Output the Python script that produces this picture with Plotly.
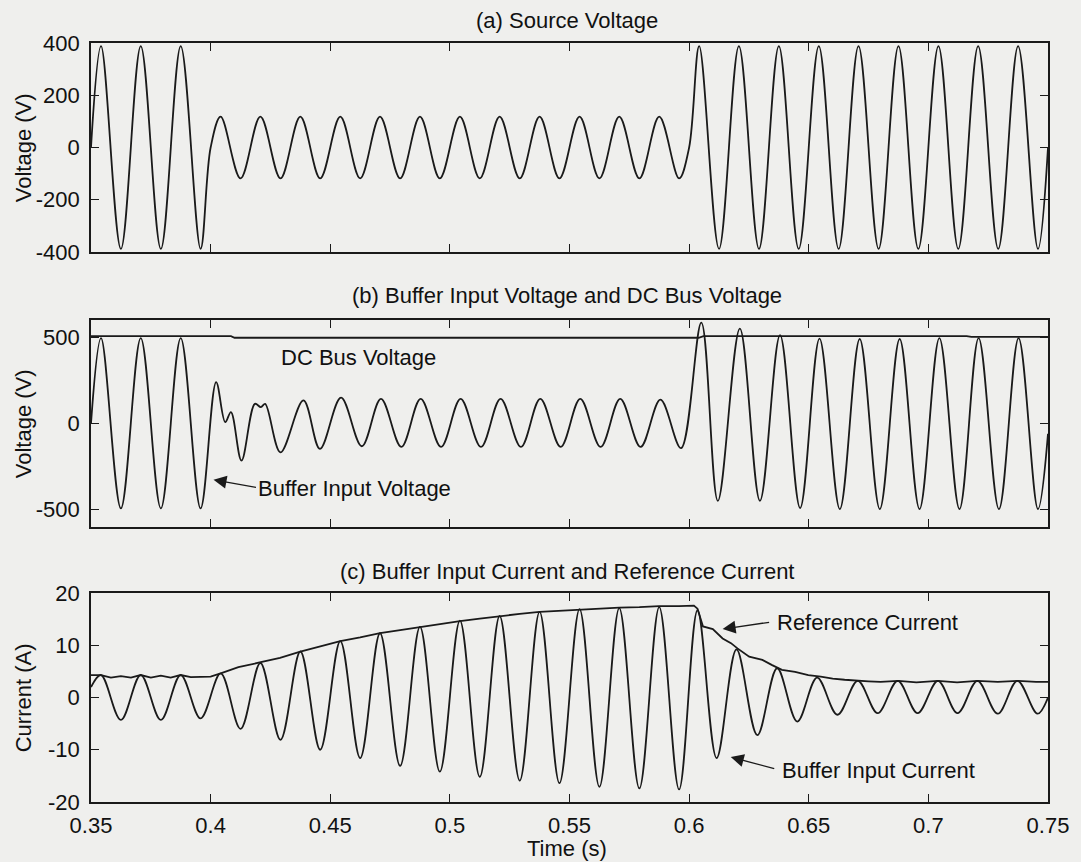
import plotly.graph_objects as go
from plotly.subplots import make_subplots

# ---------------- data ----------------
# (a) Source voltage: extremes / zero points
t_src = [0.3500, 0.3542, 0.3625, 0.3708, 0.3792, 0.3875, 0.3958, 0.4000,
         0.4042, 0.4125, 0.4208, 0.4292, 0.4375, 0.4458, 0.4542, 0.4625,
         0.4708, 0.4792, 0.4875, 0.4958, 0.5042, 0.5125, 0.5208, 0.5292,
         0.5375, 0.5458, 0.5542, 0.5625, 0.5708, 0.5792, 0.5875, 0.5958,
         0.6000, 0.6042, 0.6125, 0.6208, 0.6292, 0.6375, 0.6458, 0.6542,
         0.6625, 0.6708, 0.6792, 0.6875, 0.6958, 0.7042, 0.7125, 0.7208,
         0.7292, 0.7375, 0.7458, 0.7500]
v_src = [0, 388, -388, 388, -388, 388, -388, 0,
         118, -118, 118, -118, 118, -118, 118, -118,
         118, -118, 118, -118, 118, -118, 118, -118,
         118, -118, 118, -118, 118, -118, 118, -118,
         0, 388, -388, 388, -388, 388, -388, 388,
         -388, 388, -388, 388, -388, 388, -388, 388,
         -388, 388, -388, 0]

# (b) Buffer input voltage
t_buf = [0.3500, 0.3542, 0.3625, 0.3708, 0.3792, 0.3875, 0.3958, 0.4023,
         0.4061, 0.4085, 0.4129, 0.4185, 0.4210, 0.4228, 0.4292, 0.4388,
         0.4457, 0.4545, 0.4632, 0.4712, 0.4797, 0.4878, 0.4963, 0.5045,
         0.5130, 0.5212, 0.5297, 0.5378, 0.5463, 0.5545, 0.5630, 0.5712,
         0.5797, 0.5880, 0.5966, 0.6051, 0.6120, 0.6212, 0.6296, 0.6380,
         0.6464, 0.6545, 0.6630, 0.6713, 0.6797, 0.6880, 0.6963, 0.7046,
         0.7130, 0.7210, 0.7295, 0.7377, 0.7458, 0.7500]
v_buf = [0, 495, -492, 495, -492, 495, -492, 240,
         8, 66, -215, 114, 95, 114, -167, 134,
         -147, 150, -132, 143, -136, 143, -136, 143,
         -136, 143, -136, 143, -136, 143, -136, 143,
         -136, 138, -143, 585, -448, 550, -448, 512,
         -490, 492, -496, 490, -496, 490, -496, 495,
         -496, 495, -496, 495, -496, -60]

# (b) DC bus voltage
t_dc = [0.3500, 0.4085, 0.4100, 0.6040, 0.6060, 0.7160, 0.7180, 0.7500]
v_dc = [506, 506, 497, 497, 507, 507, 502, 502]

# (c) Buffer input current
t_cur = [0.3500, 0.3542, 0.3625, 0.3708, 0.3792, 0.3875, 0.3958, 0.4042,
         0.4125, 0.4208, 0.4292, 0.4375, 0.4458, 0.4542, 0.4625, 0.4708,
         0.4792, 0.4875, 0.4958, 0.5042, 0.5125, 0.5208, 0.5292, 0.5375,
         0.5458, 0.5542, 0.5625, 0.5708, 0.5792, 0.5875, 0.5958, 0.6035,
         0.6115, 0.6198, 0.6285, 0.6368, 0.6452, 0.6535, 0.6620, 0.6705,
         0.6788, 0.6872, 0.6955, 0.7040, 0.7122, 0.7205, 0.7290, 0.7372,
         0.7456, 0.7500]
v_cur = [2.0, 4.3, -4.3, 4.3, -4.3, 4.3, -4.0, 4.6,
         -6.0, 6.6, -8.1, 8.8, -10.0, 10.8, -11.6, 12.3,
         -13.1, 13.5, -14.2, 14.7, -15.2, 15.6, -15.9, 16.4,
         -16.4, 16.9, -17.1, 17.1, -17.4, 17.3, -17.6, 16.7,
         -11.6, 9.2, -7.2, 5.6, -4.6, 3.8, -3.3, 3.2,
         -3.0, 3.2, -3.0, 3.2, -3.0, 3.2, -3.1, 3.2,
         -3.1, 0.0]

# (c) Reference current
t_ref = [0.3500, 0.3542, 0.3583, 0.3625, 0.3667, 0.3708, 0.3750, 0.3792,
         0.3833, 0.3875, 0.3917, 0.3958, 0.4000, 0.4042, 0.4116, 0.4205,
         0.4290, 0.4375, 0.4458, 0.4542, 0.4625, 0.4708, 0.4792, 0.4875,
         0.4958, 0.5042, 0.5125, 0.5208, 0.5292, 0.5375, 0.5458, 0.5542,
         0.5625, 0.5708, 0.5792, 0.5875, 0.5958, 0.6020, 0.6035, 0.6058,
         0.6099, 0.6140, 0.6175, 0.6202, 0.6251, 0.6306, 0.6347, 0.6388,
         0.6443, 0.6498, 0.6550, 0.6600, 0.6650, 0.6700, 0.6750, 0.6800,
         0.6875, 0.6950, 0.7040, 0.7120, 0.7205, 0.7290, 0.7375, 0.7450,
         0.7500]
v_ref = [4.3, 4.3, 3.8, 4.1, 3.8, 4.3, 3.8, 4.2,
         3.8, 4.3, 3.9, 3.9, 4.0, 4.6, 5.8, 6.7,
         7.6, 8.8, 9.8, 10.8, 11.5, 12.3, 12.9, 13.5,
         14.1, 14.6, 15.1, 15.6, 16.0, 16.4, 16.6, 16.9,
         17.0, 17.2, 17.3, 17.5, 17.5, 17.6, 17.0, 13.6,
         13.1, 11.3, 10.4, 9.4, 7.8, 7.2, 6.2, 5.3,
         4.9, 4.3, 4.0, 3.6, 3.4, 3.2, 3.1, 3.0,
         3.2, 2.9, 3.2, 2.9, 3.2, 3.0, 3.2, 3.0,
         3.0]

x_ticks = [0.35, 0.4, 0.45, 0.5, 0.55, 0.6, 0.65, 0.7, 0.75]
x_tick_labels = ["0.35", "0.4", "0.45", "0.5", "0.55", "0.6", "0.65", "0.7", "0.75"]
ya_ticks = [-400, -200, 0, 200, 400]
ya_labels = ["-400", "-200", "0", "200", "400"]
yb_ticks = [-500, 0, 500]
yb_labels = ["-500", "0", "500"]
yc_ticks = [-20, -10, 0, 10, 20]
yc_labels = ["-20", "-10", "0", "10", "20"]

titles = ["(a) Source Voltage",
          "(b) Buffer Input Voltage and DC Bus Voltage",
          "(c) Buffer Input Current and Reference Current"]

# ---------------- figure ----------------
W, H = 1081, 862
ML, MR, MT, MB = 91, 22, 43, 60
PH = H - MT - MB
PW = W - ML - MR

def dom(top_px, bot_px):
    return [(H - MB - bot_px) / PH, (H - MB - top_px) / PH]

BG = "#efefed"
INK = "#1a1a1a"
TXT = "#111111"
FONT = "Liberation Sans, Arial, sans-serif"
FS = 22

fig = make_subplots(rows=3, cols=1)

lw = 1.8
fig.add_trace(go.Scatter(x=t_src, y=v_src, mode="lines", line=dict(color=INK, width=lw, shape="spline")), row=1, col=1)
fig.add_trace(go.Scatter(x=t_dc, y=v_dc, mode="lines", line=dict(color=INK, width=lw)), row=2, col=1)
fig.add_trace(go.Scatter(x=t_buf, y=v_buf, mode="lines", line=dict(color=INK, width=lw, shape="spline")), row=2, col=1)
fig.add_trace(go.Scatter(x=t_ref, y=v_ref, mode="lines", line=dict(color=INK, width=lw)), row=3, col=1)
fig.add_trace(go.Scatter(x=t_cur, y=v_cur, mode="lines", line=dict(color=INK, width=lw, shape="spline")), row=3, col=1)

axis_common = dict(showline=True, mirror="ticks", linecolor=INK, linewidth=1.6,
                   ticks="inside", ticklen=8, tickwidth=1.4, tickcolor=INK,
                   showgrid=False, zeroline=False,
                   tickfont=dict(family=FONT, size=FS, color=TXT))

doms = [dom(43, 252), dom(320, 527), dom(593, 802)]
yranges = [[-400, 400], [-600, 600], [-20, 20]]
yticks = [ya_ticks, yb_ticks, yc_ticks]
ylabs = [ya_labels, yb_labels, yc_labels]

for i in range(3):
    xa = "xaxis" if i == 0 else f"xaxis{i+1}"
    ya = "yaxis" if i == 0 else f"yaxis{i+1}"
    fig.update_layout(**{
        xa: dict(axis_common, range=[0.35, 0.75], tickvals=x_ticks,
                 ticktext=x_tick_labels, showticklabels=(i == 2),
                 ticklabelstandoff=3),
        ya: dict(axis_common, range=yranges[i], domain=doms[i],
                 tickvals=yticks[i], ticktext=ylabs[i], ticklabelstandoff=5),
    })

ann = []
# panel titles
for txt, ypx in zip(titles, [20, 295, 571]):
    ann.append(dict(text=txt, xref="paper", yref="paper", x=(572 - ML) / PW,
                    y=(H - MB - ypx) / PH, xanchor="center", yanchor="middle",
                    showarrow=False, font=dict(family=FONT, size=FS, color=TXT)))
# y-axis titles
ylabels = ["Voltage (V)", "Voltage (V)", "Current (A)"]
for i, lab in enumerate(ylabels):
    yref = "y domain" if i == 0 else f"y{i+1} domain"
    ann.append(dict(text=lab, xref="paper", yref=yref, x=(23 - ML) / PW,
                    y=0.5, textangle=-90, xanchor="center", yanchor="middle",
                    showarrow=False, font=dict(family=FONT, size=FS, color=TXT)))
# x-axis title
ann.append(dict(text="Time (s)", xref="paper", yref="paper", x=(572 - ML) / PW,
                y=(H - MB - 848) / PH, xanchor="center", yanchor="middle",
                showarrow=False, font=dict(family=FONT, size=FS, color=TXT)))

# in-plot labels
lab_font = dict(family=FONT, size=FS, color=TXT)
arrow = dict(showarrow=True, arrowhead=2, arrowsize=2.0, arrowwidth=1.3, arrowcolor=INK)
ann.append(dict(text="DC Bus Voltage", xref="x2", yref="y2", x=0.4285, y=384,
                xanchor="left", yanchor="middle", showarrow=False, font=lab_font))
ann.append(dict(text="Buffer Input Voltage", xref="x2", yref="y2", x=0.4190, y=-377,
                xanchor="left", yanchor="middle", showarrow=False, font=lab_font))
ann.append(dict(arrow, text="", xref="x2", yref="y2", x=0.4012, y=-326, ax=44, ay=8))
ann.append(dict(text="Reference Current", xref="x3", yref="y3", x=0.6360, y=14.3,
                xanchor="left", yanchor="middle", showarrow=False, font=lab_font))
ann.append(dict(arrow, text="", xref="x3", yref="y3", x=0.6140, y=13.1, ax=48, ay=-7))
ann.append(dict(text="Buffer Input Current", xref="x3", yref="y3", x=0.6380, y=-13.9,
                xanchor="left", yanchor="middle", showarrow=False, font=lab_font))
ann.append(dict(arrow, text="", xref="x3", yref="y3", x=0.6174, y=-11.4, ax=45, ay=12))

fig.update_layout(width=W, height=H, margin=dict(l=ML, r=MR, t=MT, b=MB, pad=0),
                  paper_bgcolor=BG, plot_bgcolor=BG, showlegend=False,
                  font=dict(family=FONT, size=FS, color=TXT), annotations=ann)

fig.write_html("out.html")
